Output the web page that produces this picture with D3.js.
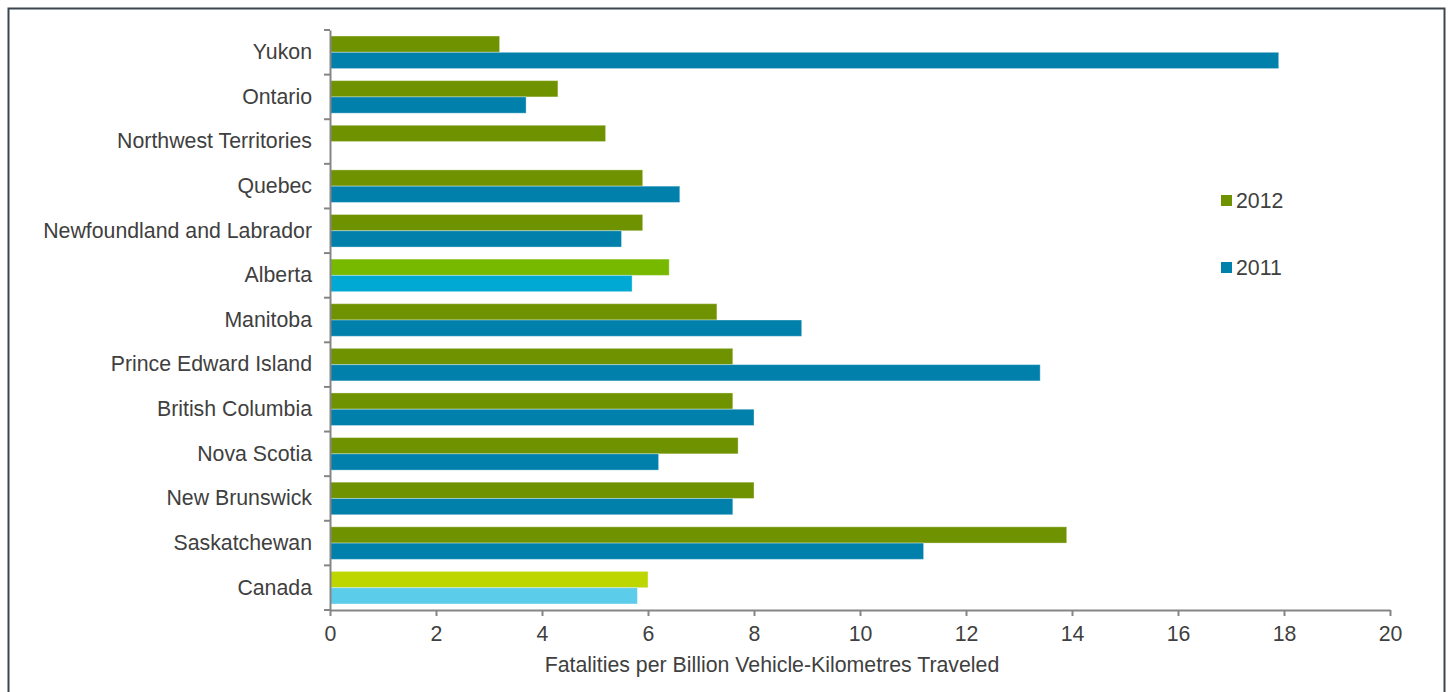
<!DOCTYPE html>
<html>
<head>
<meta charset="utf-8">
<script src="https://cdn.jsdelivr.net/npm/d3@7"></script>
<style>
  body { margin: 0; background: #fff; }
  svg text { font-family: "Liberation Sans", Arial, sans-serif; fill: #404040; }
</style>
</head>
<body>
<svg id="chart"></svg>
<script>
const provinces = [
  'Yukon', 'Ontario', 'Northwest Territories', 'Quebec', 'Newfoundland and Labrador',
  'Alberta', 'Manitoba', 'Prince Edward Island', 'British Columbia', 'Nova Scotia',
  'New Brunswick', 'Saskatchewan', 'Canada'
];
const years = ['2012', '2011'];
const values2012 = [3.2, 4.3, 5.2, 5.9, 5.9, 6.4, 7.3, 7.6, 7.6, 7.7, 8.0, 13.9, 6.0];
const values2011 = [17.9, 3.7, null, 6.6, 5.5, 5.7, 8.9, 13.4, 8.0, 6.2, 7.6, 11.2, 5.8];
const xTicks = [0, 2, 4, 6, 8, 10, 12, 14, 16, 18, 20];

const width = 1448;
const height = 692;
const margin = { top: 30, right: 58, bottom: 82, left: 330 };
const fontSize = 21.3;

const colors = {
  '2012': '#6f9300',
  '2011': '#0080ab'
};
const highlight = {
  'Alberta': { '2012': '#76b900', '2011': '#00a9d4' },
  'Canada': { '2012': '#bed600', '2011': '#5bcdea' }
};

const svg = d3.select('#chart').attr('width', width).attr('height', height);

// outer frame
svg.append('rect')
  .attr('x', 8.5).attr('y', 8.5)
  .attr('width', 1436).attr('height', 700)
  .attr('fill', 'none')
  .attr('stroke', '#3b464e')
  .attr('stroke-width', 2);

const x = d3.scaleLinear()
  .domain([0, 20])
  .range([margin.left, width - margin.right]);

const y = d3.scaleBand()
  .domain(provinces)
  .range([margin.top, height - margin.bottom])
  .paddingInner(0.27)
  .paddingOuter(0.135);

const yInner = d3.scaleBand()
  .domain(years)
  .range([0, y.bandwidth()]);

const rows = provinces.map((p, i) => ({ name: p, '2012': values2012[i], '2011': values2011[i] }));

const groups = svg.append('g')
  .selectAll('g')
  .data(rows)
  .join('g')
  .attr('transform', d => `translate(0,${y(d.name)})`);

groups.selectAll('rect')
  .data(d => years.filter(k => d[k] != null).map(k => ({ name: d.name, year: k, value: d[k] })))
  .join('rect')
  .attr('x', x(0))
  .attr('y', d => yInner(d.year))
  .attr('width', d => x(d.value) - x(0))
  .attr('height', yInner.bandwidth())
  .attr('fill', d => (highlight[d.name] ? highlight[d.name][d.year] : colors[d.year]))
  .attr('stroke', 'rgba(255,255,255,0.35)')
  .attr('stroke-width', 1);

// x axis
const xAxis = svg.append('g')
  .attr('transform', `translate(0,${height - margin.bottom})`)
  .call(d3.axisBottom(x).tickValues(xTicks).tickSize(6).tickSizeOuter(0).tickPadding(10));
xAxis.select('.domain').attr('stroke', '#858585').attr('stroke-width', 2);
xAxis.selectAll('.tick line').attr('stroke', '#858585').attr('stroke-width', 2);
xAxis.selectAll('.tick text').attr('font-size', fontSize).attr('fill', '#404040');

// y axis with ticks at category boundaries
const yAxis = svg.append('g')
  .attr('transform', `translate(${margin.left},0)`)
  .call(d3.axisLeft(y).tickSize(0).tickPadding(18));
yAxis.select('.domain').attr('stroke', '#858585').attr('stroke-width', 2);
yAxis.selectAll('.tick text').attr('font-size', fontSize).attr('fill', '#404040');

const boundaries = d3.range(provinces.length + 1).map(i => margin.top + i * y.step());
yAxis.selectAll('.boundary')
  .data(boundaries)
  .join('line')
  .attr('class', 'boundary')
  .attr('x1', -6).attr('x2', 0)
  .attr('y1', d => d).attr('y2', d => d)
  .attr('stroke', '#858585')
  .attr('stroke-width', 2);

// axis title
svg.append('text')
  .attr('x', 772)
  .attr('y', 672)
  .attr('text-anchor', 'middle')
  .attr('font-size', fontSize)
  .text('Fatalities per Billion Vehicle-Kilometres Traveled');

// legend
const legend = svg.append('g')
  .selectAll('g')
  .data(years)
  .join('g')
  .attr('transform', (d, i) => `translate(1221,${195 + i * 67})`);
legend.append('rect')
  .attr('width', 11).attr('height', 11)
  .attr('fill', d => colors[d]);
legend.append('text')
  .attr('x', 15).attr('y', 13)
  .attr('font-size', fontSize)
  .text(d => d);
</script>
</body>
</html>
